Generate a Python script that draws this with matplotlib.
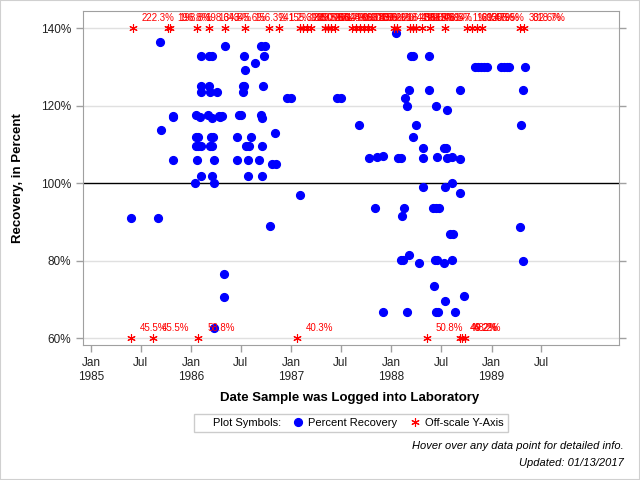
import matplotlib
matplotlib.use('Agg')
from matplotlib import pyplot as plt
import matplotlib.dates as mdate
import matplotlib.ticker as mtick
from matplotlib import font_manager
from matplotlib.lines import Line2D
from matplotlib.patches import Rectangle
import numpy as np
import pandas as pd

plt.rcParams['font.family'] = ['Liberation Sans', 'DejaVu Sans']

# percent recovery, in-range samples
rec_dates = [
    '1985-05-26', '1985-09-03', '1985-09-09', '1985-09-14', '1985-10-25', '1985-10-28', '1985-10-25',
    '1986-01-14', '1986-01-19', '1986-01-19', '1986-01-26', '1986-01-19', '1986-01-26', '1986-01-21',
    '1986-02-01', '1986-02-06', '1986-02-06', '1986-02-06', '1986-02-06', '1986-02-06',
    '1986-03-04', '1986-03-07', '1986-03-09', '1986-03-07', '1986-03-16', '1986-03-09', '1986-03-19',
    '1986-03-19', '1986-03-19', '1986-03-13', '1986-03-21', '1986-03-24', '1986-03-26', '1986-03-26',
    '1986-04-06', '1986-04-12', '1986-04-17', '1986-04-23', '1986-04-29', '1986-04-29', '1986-05-04',
    '1986-06-18', '1986-06-18', '1986-06-24', '1986-06-30', '1986-07-09', '1986-07-13', '1986-07-09',
    '1986-07-14', '1986-07-16', '1986-07-19', '1986-07-29', '1986-07-26', '1986-07-28', '1986-08-06',
    '1986-08-22', '1986-09-07', '1986-09-12', '1986-09-16', '1986-09-13', '1986-09-27', '1986-09-16',
    '1986-09-16', '1986-09-21', '1986-09-24', '1986-10-15', '1986-10-22', '1986-11-07', '1986-11-02',
    '1986-12-16', '1987-01-01', '1987-02-01', '1987-06-16', '1987-07-01', '1987-09-04', '1987-10-13',
    '1987-11-04', '1987-11-09', '1987-12-01', '1987-12-01',
    '1988-01-19', '1988-01-26', '1988-02-04', '1988-02-05', '1988-02-14', '1988-02-08', '1988-02-15',
    '1988-02-20', '1988-02-28', '1988-02-28', '1988-03-07', '1988-03-07', '1988-03-13', '1988-03-19',
    '1988-03-21', '1988-04-01', '1988-04-10', '1988-04-25', '1988-04-25', '1988-04-27', '1988-05-19',
    '1988-05-19', '1988-06-02', '1988-06-12', '1988-06-24', '1988-06-06', '1988-06-13', '1988-06-15',
    '1988-06-10', '1988-06-17', '1988-06-14', '1988-06-21', '1988-07-12', '1988-07-12', '1988-07-20',
    '1988-07-16', '1988-07-16', '1988-07-21', '1988-07-21', '1988-08-08', '1988-08-08', '1988-08-08',
    '1988-08-04', '1988-08-13', '1988-08-22', '1988-09-07', '1988-09-07', '1988-09-09', '1988-09-21',
    '1988-11-03', '1988-11-14', '1988-11-25', '1988-12-06', '1988-12-16',
    '1989-02-03', '1989-02-14', '1989-02-25', '1989-03-06', '1989-04-15', '1989-04-20', '1989-04-25',
    '1989-04-25', '1989-05-04',
]
rec_values = [
    90.9, 90.9, 136.3, 113.7, 117.3, 117.0, 105.9,
    99.9, 117.6, 111.8, 111.8, 109.5, 109.5, 105.9,
    117.0, 132.8, 125.0, 123.5, 109.5, 101.8,
    117.6, 125.0, 123.5, 132.8, 132.8, 109.5, 109.5,
    116.9, 101.8, 111.8, 111.8, 105.9, 99.9, 62.6,
    123.5, 117.3, 117.0, 117.3, 76.4, 70.5, 135.4,
    111.8, 105.9, 117.6, 117.6, 125.0, 125.0, 123.5,
    132.8, 129.3, 109.5, 109.5, 101.8, 105.9, 111.8,
    130.9, 105.9, 117.6, 116.9, 135.4, 135.4, 109.5,
    101.8, 125.0, 132.8, 88.9, 104.9, 104.9, 112.8,
    121.9, 121.9, 96.8, 121.9, 121.9, 114.9, 106.5,
    93.5, 106.7, 107.1, 66.6,
    138.6, 106.5, 106.5, 80.1, 80.1, 91.4, 93.5,
    121.9, 120.0, 66.6, 123.9, 81.3, 132.8, 132.8,
    111.8, 115.1, 79.3, 106.5, 99.1, 109.0, 132.8,
    123.9, 93.5, 93.5, 93.5, 73.3, 120.0, 106.7,
    80.1, 80.1, 66.6, 66.6, 79.3, 109.0, 109.0,
    99.1, 69.5, 118.8, 106.5, 106.7, 99.9, 80.1,
    86.8, 86.8, 66.6, 123.9, 97.4, 106.1, 70.8,
    129.9, 129.9, 129.9, 129.9, 129.9,
    129.9, 129.9, 129.9, 129.9, 88.6, 115.1, 123.9,
    79.8, 129.9,
]

# off-scale samples (shown at the axis limits with their value as label)
high_dates = [
    '1985-06-01', '1985-10-08', '1985-10-15', '1986-01-21', '1986-03-07', '1986-05-04', '1986-07-16',
    '1986-10-13', '1986-11-17', '1987-02-03', '1987-02-14', '1987-02-28', '1987-03-13', '1987-05-03',
    '1987-05-14', '1987-05-25', '1987-06-09', '1987-08-10', '1987-08-25', '1987-09-09', '1987-09-24',
    '1987-10-08', '1987-10-22', '1988-01-11', '1988-01-22', '1988-03-09', '1988-03-20', '1988-04-01',
    '1988-04-21', '1988-05-21', '1988-07-15', '1988-10-04', '1988-10-22', '1988-11-10', '1988-11-28',
    '1989-04-15', '1989-04-29',
]
high_values = [
    222.3, 196.8, 198.8, 198.3, 164.5, 345.6, 156.3, 241.2, 155.3, 188.0, 239.5, 150.2, 183.6,
    166.7, 171.4, 162.9, 148.0, 163.4, 190.5, 175.0, 183.0, 167.2, 155.1, 216.4, 184.3, 158.8,
    199.9, 151.4, 163.6, 178.5, 147.1, 169.4, 203.7, 150.9, 255.5, 302.6, 318.7,
]
low_dates = ['1985-05-27', '1985-08-15', '1986-01-27', '1987-01-21', '1988-05-09',
             '1988-09-09', '1988-09-16', '1988-09-27']
low_values = [45.5, 45.5, 58.8, 40.3, 50.8, 46.2, 49.2, 48.2]

y_ticks = [60, 80, 100, 120, 140]

red = '#ff0000'
blue = '#0000ff'
star = (6, 2, 0)

# narrow font for the off-scale value labels if it is there
installed = {f.name for f in font_manager.fontManager.ttflist}
if 'Liberation Sans Narrow' in installed:
    lab_font, lab_size = ['Liberation Sans Narrow', 'Liberation Sans'], 8
else:
    lab_font, lab_size = ['Liberation Sans', 'DejaVu Sans'], 7

fig = plt.figure(figsize=(6.4, 4.8), dpi=100)
ax = fig.add_axes([83 / 640, 1 - 345 / 480, 536 / 640, 334 / 480])

# horizontal grid + reference line at 100%
for v in y_ticks:
    if v == 100:
        ax.axhline(v, color='black', lw=1, zorder=1)
    else:
        ax.axhline(v, color='#e0e0e0', lw=1, zorder=0)

rd = pd.to_datetime(rec_dates)
ax.plot(rd, rec_values, linestyle='none', marker='o', ms=5.6, color=blue, mec=blue, zorder=3)

off_dates = pd.to_datetime(high_dates + low_dates)
off_values = np.array(high_values + low_values)
off_y = np.clip(off_values, 60, 140)
ax.plot(off_dates, off_y, linestyle='none', marker=star, ms=6, mew=0.8, color=red, zorder=4)
for d, v, yy in zip(off_dates, off_values, off_y):
    ax.annotate('%.1f%%' % v, (d, yy), xytext=(6.5, 7.5), textcoords='offset points',
                ha='left', va='center', fontsize=lab_size, family=lab_font, color=red, zorder=5)

ax.set_ylim(58.2, 144.4)
ax.set_xlim(pd.Timestamp('1984-12-02'), pd.Timestamp('1990-04-11'))
ax.set_yticks(y_ticks)
ax.yaxis.set_major_formatter(mtick.FormatStrFormatter('%d%%'))

ax.xaxis.set_major_locator(mdate.MonthLocator(bymonth=[1, 7]))
def month_fmt(x, pos=None):
    d = mdate.num2date(x)
    if d.month == 1:
        return d.strftime('%b\n%Y')
    return d.strftime('%b')
ax.xaxis.set_major_formatter(mtick.FuncFormatter(month_fmt))
# only show ticks up to Jul 1989
ax.set_xticks([t for t in ax.get_xticks() if t <= mdate.date2num(pd.Timestamp('1989-07-02'))])

ax.tick_params(axis='both', colors='#a0a0a0', labelcolor='#222222', labelsize=8.5, length=5, width=1)
ax.tick_params(axis='y', right=True)
for s in ax.spines.values():
    s.set_color('#a0a0a0')

fig.text(350 / 640, 1 - 398 / 480, 'Date Sample was Logged into Laboratory',
         ha='center', va='center', fontsize=9.5, fontweight='bold')
fig.text(18 / 640, 1 - 178 / 480, 'Recovery, in Percent', rotation=90,
         ha='center', va='center', fontsize=9.5, fontweight='bold')

handles = [Line2D([], [], linestyle='none', marker=''),
           Line2D([], [], linestyle='none', marker='o', ms=5.6, color=blue),
           Line2D([], [], linestyle='none', marker=star, ms=6, mew=0.8, color=red)]
leg = fig.legend(handles, ['Plot Symbols:', 'Percent Recovery', 'Off-scale Y-Axis'],
                 loc='center', bbox_to_anchor=(351 / 640, 1 - 423 / 480), ncol=3,
                 fontsize=8, frameon=True, fancybox=False, handlelength=0.8,
                 handletextpad=0.5, columnspacing=1.2, borderpad=0.35)
leg.get_frame().set_edgecolor('#c0c0c0')
leg.get_frame().set_linewidth(1)

fig.text(624 / 640, 1 - 446 / 480, 'Hover over any data point for detailed info.',
         ha='right', va='center', fontsize=8, style='italic')
fig.text(624 / 640, 1 - 463 / 480, 'Updated: 01/13/2017',
         ha='right', va='center', fontsize=8, style='italic')

fig.patches.append(Rectangle((0, 0), 1, 1, transform=fig.transFigure, fill=False,
                             edgecolor='#d0d0d0', lw=1.5))

plt.savefig('out.png', dpi=100)
